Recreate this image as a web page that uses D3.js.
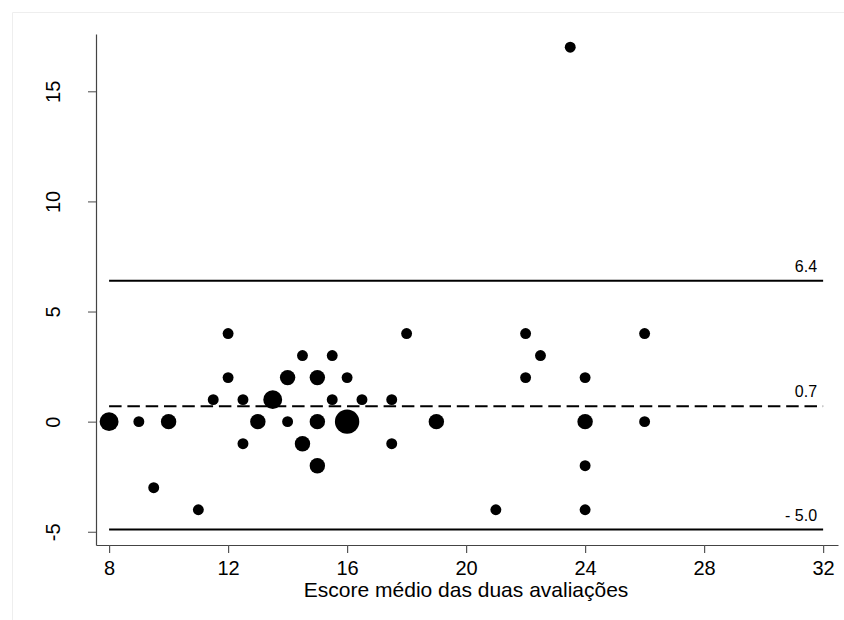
<!DOCTYPE html>
<html>
<head>
<meta charset="utf-8">
<script src="https://cdn.jsdelivr.net/npm/d3@7"></script>
<style>
    body { margin: 0; background: #fff; }
    svg text { font-family: "Liberation Sans", Arial, sans-serif; fill: #000; }
</style>
</head>
<body>
<div id="chart"></div>
<script>
// mean score of the two ratings (x), difference (y), number of coincident observations
let xVals = [8, 9, 9.5, 10, 11, 11.5, 12, 12, 12.5, 12.5, 13, 13.5, 14, 14, 14.5, 14.5, 15, 15, 15, 15.5, 15.5, 16, 16, 16.5, 17.5, 17.5, 18, 19, 21, 22, 22, 22.5, 23.5, 24, 24, 24, 24, 26, 26];
let yVals = [0, 0, -3, 0, -4, 1, 4, 2, 1, -1, 0, 1, 2, 0, 3, -1, 2, 0, -2, 3, 1, 2, 0, 1, 1, -1, 4, 0, -4, 4, 2, 3, 17, 2, 0, -2, -4, 4, 0];
let counts = [3, 1, 1, 2, 1, 1, 1, 1, 1, 1, 2, 3, 2, 1, 1, 2, 2, 2, 2, 1, 1, 1, 5, 1, 1, 1, 1, 2, 1, 1, 1, 1, 1, 1, 2, 1, 1, 1, 1];

let xTicks = [8, 12, 16, 20, 24, 28, 32];
let yTicks = [-5, 0, 5, 10, 15];

// limits of agreement and mean difference
let refValues = [6.4, 0.7, -4.9];
let refLabels = ["6.4", "0.7", "- 5.0"];
let refDashed = [false, true, false];

let xTitle = "Escore médio das duas avaliações";

let width = 844, height = 620;

let svg = d3.select("#chart")
    .append("svg")
    .attr("width", width)
    .attr("height", height);

// faint outer frame
svg.append("path")
    .attr("d", "M12.5," + height + "V12.5H" + width)
    .attr("fill", "none")
    .attr("stroke", "#eeeeee")
    .attr("stroke-width", 1);

let x = d3.scaleLinear()
    .domain([7.56, 32.5])
    .range([96, 838]);

let y = d3.scaleLinear()
    .domain([-5.6, 17.6])
    .range([545, 34]);

let r = d3.scaleSqrt()
    .domain([0, 5])
    .range([0, 12.2]);

let data = xVals.map(function(d, i) {
    return {x: d, y: yVals[i], n: counts[i]};
});

// reference lines
refValues.forEach(function(v, i) {
    svg.append("line")
        .attr("x1", x(8))
        .attr("x2", x(32))
        .attr("y1", y(v))
        .attr("y2", y(v))
        .attr("stroke", "#000")
        .attr("stroke-width", 2)
        .attr("stroke-dasharray", refDashed[i] ? "12.5,5.8" : null);

    svg.append("text")
        .attr("x", x(32) - 6)
        .attr("y", y(v) - 9)
        .attr("text-anchor", "end")
        .attr("font-size", "16px")
        .text(refLabels[i]);
});

// points
svg.append("g")
    .selectAll("circle")
    .data(data)
    .enter()
    .append("circle")
    .attr("cx", function(d) { return x(d.x); })
    .attr("cy", function(d) { return y(d.y); })
    .attr("r", function(d) { return r(d.n); })
    .attr("fill", "#000");

// axes
let xAxis = d3.axisBottom(x)
    .tickValues(xTicks)
    .tickSize(8)
    .tickPadding(8)
    .tickSizeOuter(0)
    .tickFormat(function(d) { return String(d); });

let yAxis = d3.axisLeft(y)
    .tickValues(yTicks)
    .tickSize(8)
    .tickSizeOuter(0)
    .tickFormat(function(d) { return String(d); });

let gx = svg.append("g")
    .attr("transform", "translate(0,545)")
    .call(xAxis);
gx.select(".domain").attr("stroke", "#444").attr("stroke-width", 1.2);
gx.selectAll(".tick line").attr("stroke", "#555").attr("stroke-width", 1.2);
gx.selectAll(".tick text")
    .style("font-size", "20px")
    .style("font-family", "'Liberation Sans', Arial, sans-serif");

let gy = svg.append("g")
    .attr("transform", "translate(96,0)")
    .call(yAxis);
gy.select(".domain").attr("stroke", "#444").attr("stroke-width", 1.2);
gy.selectAll(".tick line").attr("stroke", "#666").attr("stroke-width", 1.2);
gy.selectAll(".tick text")
    .style("font-size", "20px")
    .style("font-family", "'Liberation Sans', Arial, sans-serif")
    .attr("text-anchor", "middle")
    .attr("dy", 0)
    .attr("x", 0)
    .attr("y", 0)
    .attr("transform", "translate(-36,0) rotate(-90)");

// x axis title
svg.append("text")
    .attr("x", (x(8) + x(32)) / 2)
    .attr("y", 597)
    .attr("text-anchor", "middle")
    .style("font-size", "21px")
    .text(xTitle);
</script>
</body>
</html>
